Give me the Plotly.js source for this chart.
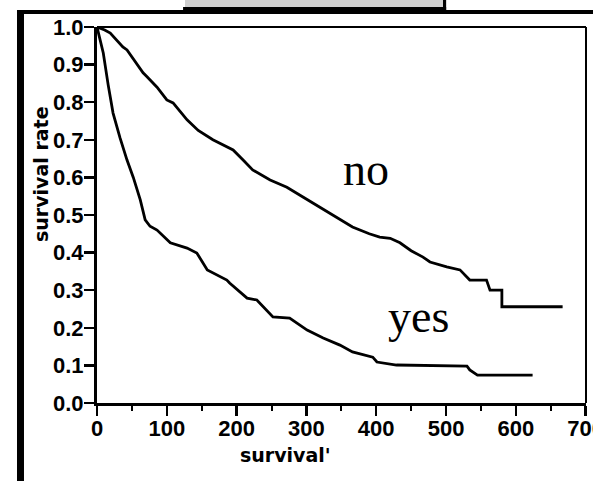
<!DOCTYPE html>
<html>
<head>
<meta charset="utf-8">
<script src="https://cdn.plot.ly/plotly-3.0.1.min.js"></script>
<style>
html,body{margin:0;padding:0;background:#fff;}
#chart{width:593px;height:481px;}
</style>
</head>
<body>
<div id="chart"></div>
<script>
// Group "no" (upper curve)
const noTime = [0, 11, 19, 37, 43, 50, 66, 72, 86, 100, 109, 129, 145, 166, 176, 195, 210, 223, 248, 272, 295, 319, 343, 366, 390, 405, 420, 434, 450, 467, 477, 490, 501, 520, 534, 558, 563, 580, 580, 667];
const noSurv = [1.0, 0.992, 0.984, 0.947, 0.939, 0.92, 0.878, 0.867, 0.84, 0.806, 0.798, 0.753, 0.725, 0.70, 0.691, 0.673, 0.645, 0.62, 0.593, 0.574, 0.548, 0.521, 0.495, 0.468, 0.45, 0.441, 0.438, 0.426, 0.405, 0.388, 0.375, 0.368, 0.362, 0.354, 0.327, 0.327, 0.30, 0.30, 0.256, 0.256];
// Group "yes" (lower curve)
const yesTime = [0, 9, 16, 23, 33, 43, 52, 62, 69, 76, 86, 105, 129, 143, 158, 186, 190, 215, 229, 252, 276, 301, 324, 348, 366, 395, 401, 429, 530, 534, 545, 624];
const yesSurv = [1.0, 0.931, 0.846, 0.771, 0.705, 0.646, 0.60, 0.54, 0.487, 0.47, 0.46, 0.426, 0.412, 0.399, 0.354, 0.327, 0.319, 0.279, 0.274, 0.229, 0.226, 0.194, 0.173, 0.154, 0.136, 0.122, 0.109, 0.101, 0.098, 0.088, 0.074, 0.074];

const groupLabels = ['no', 'yes'];
const xTickVals = [0, 100, 200, 300, 400, 500, 600, 700];
const yTickVals = [0, 0.1, 0.2, 0.3, 0.4, 0.5, 0.6, 0.7, 0.8, 0.9, 1.0];
const xTitle = "survival'";
const yTitle = 'survival rate';

const lineStyle = {color: '#000', width: 2.8};
const traces = [
  {x: noTime, y: noSurv, mode: 'lines', line: lineStyle, name: groupLabels[0], hoverinfo: 'skip'},
  {x: yesTime, y: yesSurv, mode: 'lines', line: lineStyle, name: groupLabels[1], hoverinfo: 'skip'}
];

const tickFont = {family: 'Liberation Sans', size: 22, color: '#000', weight: 'bold'};
const layout = {
  width: 593, height: 481,
  margin: {l: 97, r: 7, t: 27, b: 78, pad: 0},
  paper_bgcolor: '#fff', plot_bgcolor: '#fff',
  showlegend: false,
  xaxis: {
    range: [0, 700.5], tickvals: xTickVals, ticks: 'outside', ticklen: 10, tickwidth: 2.5, tickcolor: '#000',
    showline: true, linewidth: 3, linecolor: '#000', showgrid: false, zeroline: false,
    tickfont: tickFont, ticklabeloverflow: 'allow', ticklabelstandoff: -6,
    minor: {dtick: 50, tick0: 0, ticks: 'outside', ticklen: 5, tickwidth: 2, tickcolor: '#000', showgrid: false}
  },
  yaxis: {
    range: [0, 1], tickvals: yTickVals, tickformat: '.1f', ticks: 'outside', ticklen: 10, tickwidth: 2.5, tickcolor: '#000',
    showline: true, linewidth: 3, linecolor: '#000', showgrid: false, zeroline: false,
    tickfont: tickFont, ticklabelstandoff: -4
  },
  annotations: [
    {xref: 'paper', yref: 'paper', x: -0.1145, y: 0.609, text: yTitle, textangle: -90, showarrow: false,
     font: {family: 'DejaVu Sans', size: 19, color: '#000', weight: 'bold'}, xanchor: 'center', yanchor: 'middle'},
    {xref: 'paper', yref: 'paper', x: 0.3845, y: -0.138, text: xTitle, showarrow: false,
     font: {family: 'DejaVu Sans', size: 19, color: '#000', weight: 'bold'}, xanchor: 'center', yanchor: 'middle'},
    {xref: 'x', yref: 'y', x: 385, y: 0.622, text: groupLabels[0], showarrow: false,
     font: {family: 'Liberation Serif', size: 46, color: '#000'}, xanchor: 'center', yanchor: 'middle'},
    {xref: 'x', yref: 'y', x: 461, y: 0.231, text: groupLabels[1], showarrow: false,
     font: {family: 'Liberation Serif', size: 46, color: '#000'}, xanchor: 'center', yanchor: 'middle'}
  ],
  shapes: [
    {type: 'line', xref: 'paper', yref: 'paper', x0: 0, x1: 1, y0: 1, y1: 1, line: {color: '#000', width: 2}},
    {type: 'line', xref: 'paper', yref: 'paper', x0: 1, x1: 1, y0: 0, y1: 1, line: {color: '#000', width: 2}},
    {type: 'rect', xref: 'paper', yref: 'paper', x0: -0.1636, x1: -0.1493, y0: -0.21, y1: 1.045, fillcolor: '#000', line: {width: 0}},
    {type: 'rect', xref: 'paper', yref: 'paper', x0: -0.1636, x1: 1.02, y0: 1.0346, y1: 1.045, fillcolor: '#000', line: {width: 0}},
    {type: 'rect', xref: 'paper', yref: 'paper', x0: 0.18, x1: 0.7076, y0: 1.0532, y1: 1.075, fillcolor: '#cfcfcf', line: {width: 0}},
    {type: 'rect', xref: 'paper', yref: 'paper', x0: 0.176, x1: 0.714, y0: 1.0346, y1: 1.0532, fillcolor: '#000', line: {width: 0}},
    {type: 'rect', xref: 'paper', yref: 'paper', x0: 0.7076, x1: 0.714, y0: 1.0346, y1: 1.075, fillcolor: '#000', line: {width: 0}}
  ]
};

Plotly.newPlot('chart', traces, layout, {staticPlot: true, displayModeBar: false});
</script>
</body>
</html>
